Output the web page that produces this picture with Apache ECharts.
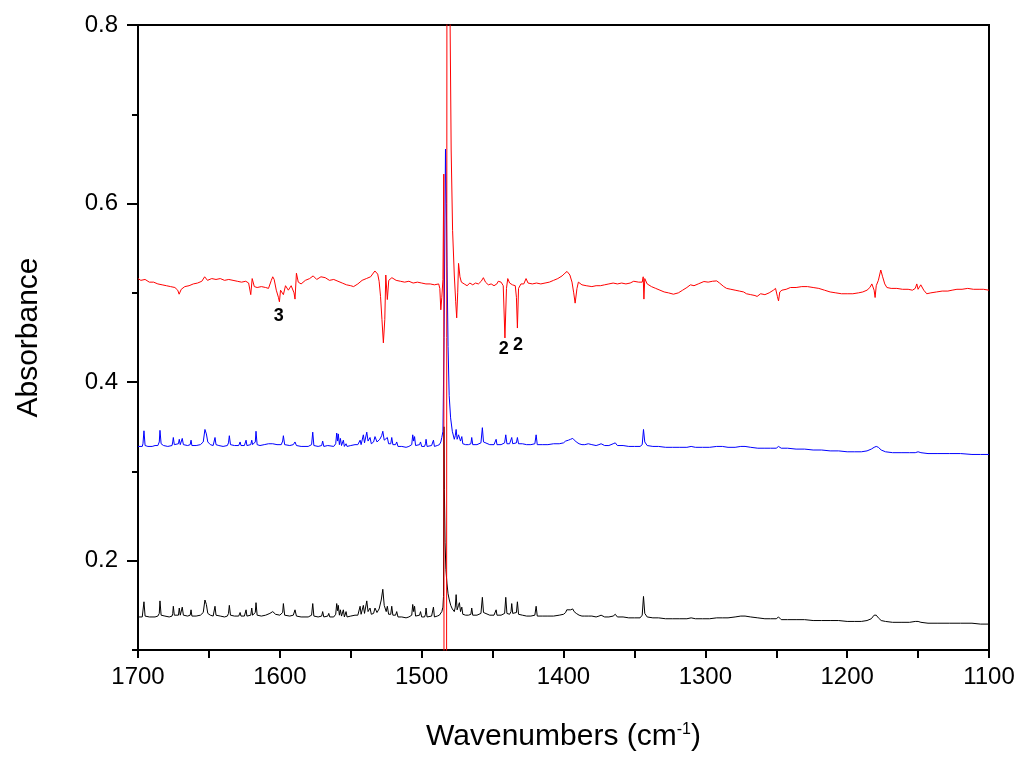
<!DOCTYPE html>
<html>
<head>
<meta charset="utf-8">
<script src="https://cdn.jsdelivr.net/npm/echarts@6/dist/echarts.min.js"></script>
<style>
  html, body { margin: 0; padding: 0; background: #fff; }
  #chart { width: 1024px; height: 757px; }
</style>
</head>
<body>
<div id="chart"></div>
<script>
// tick positions
var yMajor = [0.2, 0.4, 0.6, 0.8];
var yMinor = [0.1, 0.3, 0.5, 0.7];

// red spectrum [wavenumber, absorbance]
var red = [
  [1700,0.516],[1698,0.514],[1695,0.515],[1692,0.512],[1689,0.512],[1686,0.510],[1683,0.509],[1680,0.508],
  [1677,0.507],[1674,0.506],[1672,0.503],[1671,0.4985],[1669.5,0.504],[1667,0.507],[1664,0.508],[1661,0.510],
  [1658,0.511],[1655,0.513],[1653,0.518],[1651,0.514],[1648,0.516],[1645,0.515],[1642,0.516],[1639,0.514],
  [1636,0.515],[1633,0.514],[1630,0.513],[1627,0.512],[1624,0.513],[1622,0.511],[1620.5,0.498],[1619.5,0.516],
  [1618,0.507],[1616,0.506],[1613,0.507],[1610,0.506],[1608,0.505],[1606,0.514],[1605,0.518],[1604,0.515],
  [1602.5,0.503],[1601,0.495],[1600.3,0.490],[1599.5,0.503],[1597.5,0.498],[1596,0.508],[1594,0.503],[1592,0.508],
  [1590,0.500],[1589.3,0.493],[1588.3,0.522],[1587,0.512],[1585,0.510],[1582,0.514],[1579,0.516],[1576.5,0.519],
  [1574,0.515],[1571,0.518],[1568,0.517],[1565,0.514],[1562,0.515],[1559,0.513],[1556,0.511],[1553,0.509],
  [1550,0.508],[1548,0.507],[1545,0.510],[1542,0.514],[1539,0.516],[1536,0.518],[1533,0.5245],[1531,0.521],
  [1530,0.513],[1529,0.496],[1528,0.470],[1527,0.444],[1526,0.470],[1525.3,0.520],[1524.2,0.4925],[1523.2,0.514],
  [1521,0.517],[1518,0.514],[1515,0.513],[1512,0.512],[1509,0.513],[1506,0.511],[1503,0.512],[1500,0.511],
  [1497,0.510],[1494,0.510],[1491,0.509],[1488,0.510],[1487.2,0.505],[1486.5,0.481],[1485.8,0.495],[1485,0.515],
  [1484.4,0.633],[1484.1,-0.5],[1482.6,-0.5],[1482.0,1.5],[1481.2,1.5],[1480.2,0.85],[1479.2,0.66],[1478.2,0.57],
  [1477,0.52],[1476,0.49],[1475.3,0.472],[1474.6,0.50],[1474,0.533],[1473,0.518],[1472,0.512],[1470,0.510],
  [1468,0.508],[1466,0.511],[1464,0.509],[1462,0.511],[1460,0.510],[1458,0.513],[1456.5,0.517],[1455,0.512],
  [1453,0.509],[1451,0.510],[1449,0.508],[1447,0.510],[1446,0.513],[1444,0.512],[1442.5,0.508],[1441.3,0.4495],
  [1440.2,0.505],[1439.3,0.516],[1438,0.511],[1436,0.509],[1434,0.508],[1433.2,0.495],[1432.5,0.4606],[1431.7,0.505],
  [1430,0.510],[1428,0.510],[1426.4,0.516],[1425,0.511],[1422,0.510],[1419,0.511],[1416,0.510],[1413,0.511],
  [1410,0.512],[1407,0.514],[1404,0.516],[1401,0.519],[1399,0.522],[1397.5,0.524],[1395.5,0.520],[1394,0.512],
  [1392.8,0.500],[1391.8,0.4885],[1390.5,0.505],[1389.5,0.512],[1387,0.509],[1384,0.508],[1380,0.507],[1377,0.508],
  [1374,0.508],[1371,0.509],[1368,0.510],[1365,0.511],[1362,0.510],[1359,0.511],[1356,0.510],[1353,0.511],
  [1350.5,0.513],[1347,0.512],[1344.5,0.512],[1343.8,0.518],[1343.3,0.493],[1342.7,0.516],[1341,0.510],[1338,0.507],
  [1335,0.505],[1332,0.503],[1329,0.501],[1326,0.500],[1322.5,0.4985],[1319,0.500],[1316,0.503],[1313,0.506],
  [1310.5,0.509],[1308,0.508],[1305,0.510],[1301,0.5127],[1298,0.512],[1295,0.513],[1292,0.5134],[1290,0.511],
  [1287,0.507],[1285,0.505],[1282,0.504],[1279,0.503],[1276,0.502],[1273,0.501],[1271,0.499],[1268,0.498],
  [1265,0.497],[1263.5,0.496],[1261,0.499],[1258,0.498],[1255,0.500],[1252,0.503],[1250.5,0.505],[1249.2,0.496],
  [1248.4,0.491],[1247.5,0.501],[1246,0.503],[1243,0.504],[1240,0.506],[1236,0.506],[1232,0.507],[1228,0.507],
  [1224,0.506],[1220,0.505],[1216,0.503],[1212,0.501],[1208,0.500],[1204,0.499],[1200,0.499],[1196,0.499],
  [1192,0.500],[1189,0.501],[1186,0.503],[1184,0.506],[1182.6,0.510],[1181,0.503],[1180.3,0.4948],[1179.5,0.508],
  [1178,0.514],[1176.3,0.5256],[1175,0.518],[1173.5,0.510],[1172,0.506],[1169,0.505],[1165,0.505],[1161,0.504],
  [1157,0.504],[1154,0.503],[1152,0.505],[1150.9,0.510],[1150,0.504],[1148.1,0.509],[1146,0.503],[1143.9,0.499],
  [1141,0.500],[1137,0.501],[1133,0.502],[1129,0.502],[1126,0.503],[1122.6,0.504],[1119,0.504],[1115,0.505],
  [1111,0.504],[1107,0.504],[1104,0.504],[1100,0.503]
];

// blue spectrum
var blue = [
  [1700,0.328],[1697,0.328],[1696.5,0.331],[1695.8,0.3455],[1695,0.329],[1693,0.328],[1690,0.328],[1688,0.329],
  [1686,0.329],[1685,0.333],[1684.5,0.346],[1683.7,0.331],[1682,0.329],[1679,0.328],[1676,0.329],[1675.5,0.333],
  [1675.1,0.338],[1674.4,0.330],[1673,0.329],[1671.5,0.331],[1670.9,0.336],[1670.2,0.330],[1669.4,0.331],[1668.8,0.337],
  [1668,0.330],[1665,0.329],[1663.2,0.330],[1662.6,0.335],[1662,0.329],[1659,0.329],[1656,0.330],[1654,0.333],
  [1652.8,0.347],[1651.8,0.342],[1650.8,0.333],[1649,0.330],[1647,0.329],[1646.3,0.331],[1645.7,0.338],[1645,0.330],
  [1643,0.329],[1640,0.328],[1637,0.329],[1636.2,0.332],[1635.6,0.340],[1634.8,0.330],[1632,0.329],[1629,0.329],
  [1628.5,0.331],[1628,0.333],[1627.4,0.329],[1625,0.329],[1624.3,0.331],[1623.8,0.335],[1623.2,0.329],[1620.5,0.330],
  [1619.8,0.335],[1619.2,0.330],[1618,0.330],[1617.3,0.333],[1616.8,0.345],[1616,0.330],[1614,0.329],[1611,0.330],
  [1608,0.331],[1606.9,0.332],[1605,0.331],[1602,0.330],[1599,0.330],[1598,0.334],[1597.5,0.340],[1596.6,0.330],
  [1593,0.329],[1590.5,0.330],[1589.3,0.333],[1588.3,0.329],[1585,0.328],[1580,0.328],[1577.6,0.330],[1576.8,0.344],
  [1576,0.329],[1573,0.328],[1570.5,0.329],[1569.8,0.334],[1569,0.328],[1566.2,0.329],[1565.5,0.331],[1564.8,0.328],
  [1562,0.328],[1560.6,0.331],[1559.9,0.343],[1559.3,0.334],[1558.8,0.342],[1558,0.330],[1557.3,0.337],[1556.5,0.329],
  [1555.2,0.335],[1554.5,0.328],[1553.8,0.327],[1553.3,0.331],[1552.6,0.328],[1550,0.329],[1547,0.330],[1545,0.330],
  [1543.4,0.335],[1542.7,0.330],[1541.1,0.341],[1540.3,0.332],[1538.7,0.344],[1537.8,0.334],[1536.4,0.338],[1535.5,0.331],
  [1533.9,0.333],[1532.9,0.339],[1531.5,0.333],[1529.5,0.336],[1528.2,0.340],[1527.4,0.345],[1526.4,0.335],[1525,0.333],
  [1524.2,0.338],[1523.3,0.331],[1521.8,0.331],[1521.1,0.338],[1520.3,0.330],[1518.4,0.330],[1517.6,0.333],[1516.7,0.328],
  [1514,0.328],[1511,0.327],[1509,0.328],[1507,0.330],[1506.3,0.341],[1505.6,0.334],[1505,0.339],[1504.3,0.329],
  [1501.5,0.330],[1500.8,0.333],[1500,0.328],[1498,0.328],[1497.3,0.331],[1496.9,0.336],[1496.2,0.328],[1493,0.329],
  [1492.3,0.330],[1491.7,0.335],[1491,0.328],[1489,0.329],[1487.5,0.330],[1486.5,0.333],[1485.8,0.338],[1485,0.345],
  [1484.2,0.45],[1483.2,0.661],[1482.6,0.60],[1482.1,0.53],[1481.4,0.44],[1480.6,0.385],[1479.6,0.36],[1478.4,0.345],
  [1477,0.336],[1476.3,0.340],[1475.7,0.347],[1475,0.336],[1474,0.341],[1473.4,0.343],[1472.6,0.334],[1471.7,0.339],
  [1471,0.331],[1469,0.330],[1467,0.330],[1465.3,0.331],[1464.7,0.338],[1464,0.330],[1461,0.330],[1458.2,0.332],
  [1457.2,0.349],[1456.4,0.333],[1455,0.331],[1452,0.330],[1449,0.330],[1448,0.331],[1447.5,0.336],[1446.9,0.330],
  [1444,0.330],[1441.5,0.332],[1440.7,0.341],[1439.9,0.331],[1438,0.331],[1437,0.333],[1436.5,0.338],[1435.8,0.331],
  [1433.2,0.332],[1432.5,0.338],[1431.7,0.331],[1429,0.331],[1426,0.330],[1423,0.330],[1420.2,0.331],[1419.3,0.341],
  [1418.5,0.330],[1415,0.330],[1411,0.330],[1407,0.331],[1403,0.331],[1400,0.332],[1398.5,0.334],[1397.7,0.336],
  [1396.5,0.335],[1395,0.336],[1393.5,0.337],[1392.5,0.335],[1391,0.333],[1389,0.331],[1387,0.330],[1385,0.330],
  [1382.5,0.331],[1381.5,0.333],[1380,0.330],[1377,0.329],[1375,0.330],[1373.5,0.331],[1371,0.329],[1368,0.329],
  [1365,0.331],[1363.5,0.332],[1362,0.329],[1358,0.329],[1354,0.328],[1350,0.328],[1346,0.328],[1344.5,0.330],
  [1343.6,0.347],[1342.7,0.333],[1341,0.329],[1337,0.328],[1333,0.328],[1328,0.327],[1323,0.327],[1318,0.327],
  [1313,0.327],[1310,0.328],[1307,0.327],[1302,0.327],[1297,0.327],[1292,0.328],[1288,0.328],[1284,0.327],
  [1279,0.327],[1275,0.328],[1272,0.328],[1268,0.327],[1263,0.326],[1258,0.326],[1254,0.326],[1250,0.326],
  [1248.4,0.328],[1246.5,0.326],[1242,0.326],[1236,0.325],[1230,0.325],[1224,0.324],[1218,0.324],[1212,0.323],
  [1206,0.323],[1200,0.322],[1195,0.322],[1190,0.322],[1186,0.323],[1183,0.325],[1181,0.327],[1179.5,0.328],
  [1178,0.327],[1176,0.324],[1173,0.322],[1168,0.321],[1162,0.321],[1156,0.321],[1152,0.321],[1150,0.322],
  [1148,0.321],[1143,0.320],[1136,0.320],[1128,0.320],[1120,0.320],[1112,0.319],[1106,0.319],[1100,0.319]
];

// black spectrum
var black = [
  [1700,0.137],[1697,0.137],[1696.5,0.139],[1695.8,0.154],[1695,0.138],[1692,0.137],[1688,0.137],[1686,0.138],
  [1685,0.141],[1684.5,0.155],[1683.7,0.139],[1681,0.138],[1678,0.137],[1676,0.138],[1675.5,0.141],[1675.1,0.149],
  [1674.4,0.139],[1673,0.138],[1671.5,0.139],[1670.9,0.147],[1670.2,0.139],[1669.4,0.139],[1668.8,0.148],[1668,0.139],
  [1665,0.138],[1663.2,0.139],[1662.6,0.145],[1662,0.138],[1659,0.138],[1656,0.139],[1654,0.142],[1652.8,0.156],
  [1651.8,0.151],[1650.8,0.141],[1649,0.139],[1647,0.138],[1646.3,0.140],[1645.7,0.149],[1645,0.139],[1642,0.138],
  [1639,0.137],[1637,0.138],[1636.2,0.141],[1635.6,0.150],[1634.8,0.139],[1632,0.138],[1629,0.138],[1628,0.142],
  [1627.4,0.138],[1625,0.138],[1624.3,0.140],[1623.8,0.145],[1623.2,0.138],[1620.5,0.139],[1619.8,0.147],[1619.2,0.139],
  [1618,0.139],[1617.3,0.142],[1616.8,0.153],[1616,0.139],[1613,0.138],[1610,0.139],[1607,0.141],[1605,0.143],
  [1603,0.140],[1600,0.139],[1598,0.142],[1597.5,0.152],[1596.6,0.139],[1593,0.138],[1590.5,0.139],[1589.3,0.145],
  [1588.3,0.138],[1585,0.137],[1580,0.137],[1577.6,0.139],[1576.8,0.152],[1576,0.138],[1573,0.137],[1570.5,0.138],
  [1569.8,0.143],[1569,0.137],[1566.2,0.138],[1565.5,0.141],[1564.8,0.137],[1562,0.137],[1560.6,0.140],[1559.9,0.152],
  [1559.3,0.144],[1558.8,0.150],[1558,0.139],[1557.3,0.145],[1556.5,0.138],[1555.2,0.145],[1554.5,0.137],[1553.8,0.137],
  [1553.3,0.143],[1552.6,0.137],[1550,0.138],[1547,0.139],[1545,0.139],[1543.4,0.149],[1542.7,0.140],[1541.1,0.150],
  [1540.3,0.141],[1538.7,0.155],[1537.8,0.143],[1536.4,0.147],[1535.5,0.140],[1533.9,0.141],[1532.9,0.147],[1531.5,0.142],
  [1530,0.146],[1528.5,0.156],[1527.4,0.168],[1526.4,0.150],[1525,0.143],[1524.2,0.149],[1523.3,0.140],[1521.8,0.140],
  [1521.1,0.149],[1520.3,0.139],[1518.4,0.139],[1517.6,0.143],[1516.7,0.137],[1514,0.137],[1511,0.136],[1509,0.137],
  [1507,0.139],[1506.3,0.151],[1505.6,0.143],[1505,0.149],[1504.3,0.138],[1501.5,0.139],[1500.8,0.143],[1500,0.137],
  [1498,0.137],[1497.3,0.140],[1496.9,0.147],[1496.2,0.137],[1493,0.138],[1492.3,0.139],[1491.7,0.148],[1491,0.137],
  [1489,0.138],[1487.5,0.139],[1486.5,0.141],[1485.8,0.143],[1485,0.148],[1484.6,0.16],[1484.3,0.35],[1484.0,0.28],
  [1483.5,0.22],[1482.9,0.19],[1482.2,0.175],[1481.4,0.163],[1480.5,0.156],[1479.5,0.150],[1478.4,0.146],[1477,0.143],
  [1476.3,0.148],[1475.7,0.162],[1475,0.145],[1474,0.150],[1473.4,0.153],[1472.6,0.143],[1471.7,0.148],[1471,0.140],
  [1469,0.139],[1467,0.139],[1465.3,0.140],[1464.7,0.147],[1464,0.139],[1461,0.139],[1458.2,0.141],[1457.2,0.159],
  [1456.4,0.142],[1455,0.140],[1452,0.139],[1449,0.139],[1448,0.140],[1447.5,0.145],[1446.9,0.139],[1444,0.139],
  [1441.5,0.141],[1440.7,0.159],[1439.9,0.141],[1438,0.140],[1437,0.143],[1436.5,0.152],[1435.8,0.141],[1433.2,0.142],
  [1432.5,0.154],[1431.7,0.140],[1429,0.139],[1426,0.138],[1423,0.138],[1420.2,0.139],[1419.3,0.149],[1418.5,0.138],
  [1415,0.138],[1411,0.138],[1407,0.138],[1403,0.139],[1400,0.140],[1398.5,0.142],[1397.7,0.145],[1396.5,0.143],
  [1395,0.145],[1393.5,0.146],[1392.5,0.143],[1391,0.141],[1389,0.139],[1387,0.138],[1385,0.138],[1382.5,0.138],
  [1381.5,0.140],[1380,0.138],[1377,0.137],[1375,0.138],[1373.5,0.139],[1371,0.137],[1368,0.137],[1365,0.138],
  [1363.5,0.140],[1362,0.137],[1358,0.137],[1354,0.136],[1350,0.136],[1346,0.136],[1344.5,0.139],[1343.6,0.160],
  [1342.7,0.141],[1341,0.137],[1337,0.136],[1333,0.136],[1328,0.135],[1323,0.135],[1318,0.135],[1313,0.135],
  [1310,0.136],[1307,0.135],[1302,0.135],[1297,0.135],[1292,0.136],[1288,0.136],[1284,0.136],[1279,0.137],
  [1275,0.138],[1272,0.138],[1268,0.137],[1263,0.136],[1258,0.135],[1254,0.135],[1250,0.135],[1248.4,0.137],
  [1246.5,0.134],[1242,0.134],[1236,0.134],[1230,0.134],[1224,0.133],[1218,0.133],[1212,0.133],[1206,0.133],
  [1200,0.132],[1195,0.132],[1190,0.132],[1186,0.133],[1183,0.135],[1181,0.139],[1179.5,0.139],[1178,0.136],
  [1176,0.133],[1173,0.132],[1168,0.131],[1162,0.131],[1156,0.131],[1152,0.132],[1150,0.132],[1148,0.131],
  [1143,0.130],[1136,0.130],[1128,0.130],[1120,0.130],[1112,0.130],[1106,0.129],[1100,0.129]
];

// peak annotations [wavenumber, absorbance, text]
var notes = [[1600.8, 0.474, '3'], [1442.1, 0.437, '2'], [1432.0, 0.442, '2']];

var font = 'Liberation Sans, Arial, sans-serif';
var chart = echarts.init(document.getElementById('chart'));

var option = {
  backgroundColor: '#fff',
  animation: false,
  grid: {
    left: 138, right: 35, top: 25, bottom: 104,
    show: true, borderColor: '#000', borderWidth: 2
  },
  xAxis: [
    {
      // ticks every 50, labels only on the hundreds
      type: 'value',
      min: 1100, max: 1700, interval: 50,
      inverse: true,
      axisLine: { show: true, onZero: false, lineStyle: { color: '#000', width: 2 } },
      axisTick: { show: true, length: 8, lineStyle: { color: '#000', width: 2 } },
      splitLine: { show: false },
      axisLabel: {
        color: '#000', fontSize: 24, fontFamily: font, margin: 15,
        formatter: function (v) { return v % 100 === 0 ? String(v) : ''; }
      },
      name: 'Wavenumbers (cm{sup|-1})',
      nameLocation: 'middle',
      nameGap: 72,
      nameTextStyle: {
        color: '#000', fontSize: 30, fontFamily: font,
        rich: { sup: { fontSize: 16, fontFamily: font, color: '#000', verticalAlign: 'top' } }
      }
    }
  ],
  yAxis: [
    {
      type: 'value',
      min: 0.1, max: 0.8,
      position: 'left',
      axisLine: { show: true, onZero: false, lineStyle: { color: '#000', width: 2 } },
      axisTick: { show: true, length: 11, customValues: yMajor, lineStyle: { color: '#000', width: 2 } },
      splitLine: { show: false },
      axisLabel: {
        color: '#000', fontSize: 24, fontFamily: font, margin: 20,
        customValues: yMajor,
        formatter: function (v) { return v.toFixed(1); }
      },
      name: 'Absorbance',
      nameLocation: 'middle',
      nameGap: 94,
      nameTextStyle: { color: '#000', fontSize: 30, fontFamily: font }
    },
    {
      type: 'value',
      min: 0.1, max: 0.8,
      position: 'left',
      axisLine: { show: false, onZero: false },
      axisTick: { show: true, length: 6, customValues: yMinor, lineStyle: { color: '#000', width: 2 } },
      splitLine: { show: false },
      axisLabel: { show: false, customValues: yMinor }
    }
  ],
  series: [
    {
      name: 'black', type: 'line', data: black, showSymbol: false, clip: true,
      lineStyle: { color: '#000', width: 1 }, itemStyle: { color: '#000' }
    },
    {
      name: 'blue', type: 'line', data: blue, showSymbol: false, clip: true,
      lineStyle: { color: '#0000ff', width: 1 }, itemStyle: { color: '#0000ff' }
    },
    {
      name: 'red', type: 'line', data: red, showSymbol: false, clip: true,
      lineStyle: { color: '#ff0000', width: 1 }, itemStyle: { color: '#ff0000' }
    },
    {
      name: 'notes', type: 'scatter', data: notes, symbolSize: 0, silent: true,
      itemStyle: { color: '#000' },
      label: {
        show: true, position: 'inside', color: '#000', opacity: 1, textBorderWidth: 0,
        fontSize: 18, fontWeight: 'bold', fontFamily: font,
        formatter: function (p) { return p.value[2]; }
      }
    }
  ]
};

chart.setOption(option);
</script>
</body>
</html>
